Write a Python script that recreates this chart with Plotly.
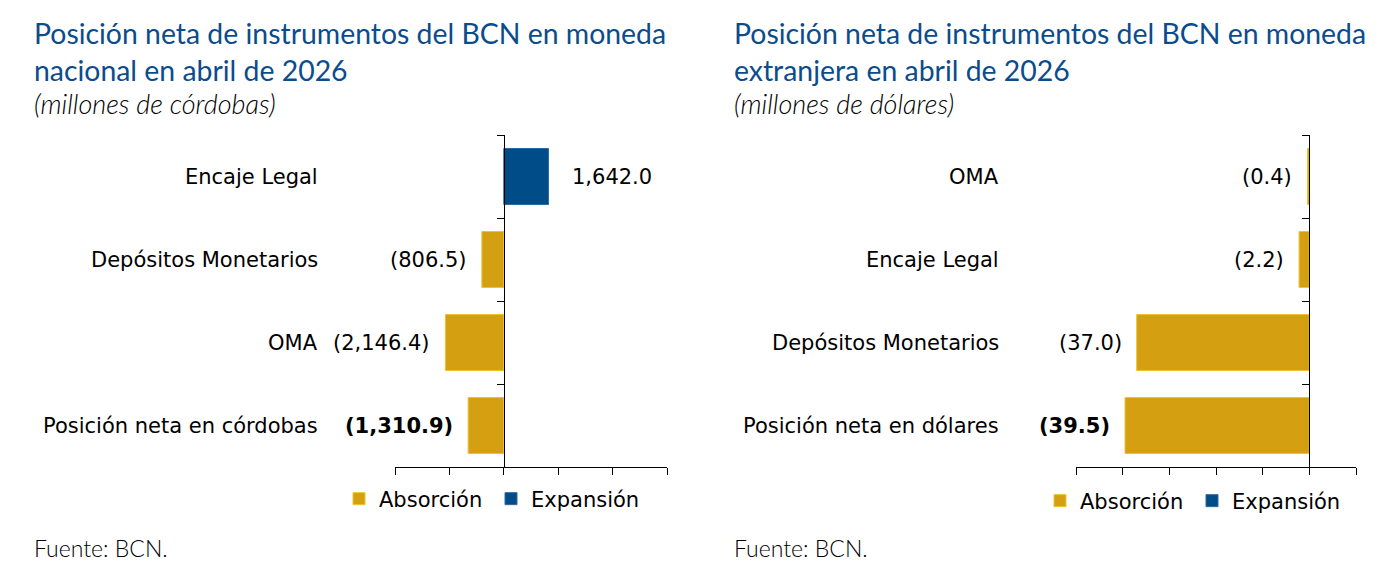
import plotly.graph_objects as go

W, H = 1388, 588

# ---------------- data ----------------
cats_nac = ["Encaje Legal", "Depósitos Monetarios", "OMA", "Posición neta en córdobas"]
vals_nac = [1642.0, -806.5, -2146.4, -1310.9]

cats_ext = ["OMA", "Encaje Legal", "Depósitos Monetarios", "Posición neta en dólares"]
vals_ext = [-0.4, -2.2, -37.0, -39.5]

range_nac = [-4000, 6000]
dtick_nac = 2000
range_ext = [-50, 10]
dtick_ext = 10

title_nac = "Posición neta de instrumentos del BCN en moneda<br>nacional en abril de 2026"
sub_nac = "(millones de córdobas)"
title_ext = "Posición neta de instrumentos del BCN en moneda<br>extranjera en abril de 2026"
sub_ext = "(millones de dólares)"
source = "Fuente: BCN."
series_names = ["Absorción", "Expansión"]

# ---------------- style ----------------
GOLD = "#D4A011"
GOLD_EDGE = "#F0C230"
BLUE = "#004C89"
BLUE_EDGE = "#2A6AA3"
TITLE_COLOR = "#0B4C8C"
BODY_FONT = "DejaVu Sans"
TITLE_FONT = "Lato"
BODY_SIZE = 21

dom_nac = [395 / W, 667 / W]
dom_ext = [1076 / W, 1356 / W]
dom_y = [1 - 467 / H, 1 - 135 / H]


def fmt(v):
    s = f"{abs(v):,.1f}"
    return f"({s})" if v < 0 else s


def zero_pos(dom, rng):
    return dom[0] + (0 - rng[0]) / (rng[1] - rng[0]) * (dom[1] - dom[0])


fig = go.Figure()

panels = [
    (cats_nac, vals_nac, "x", "y", "legend"),
    (cats_ext, vals_ext, "x2", "y2", "legend2"),
]
for cats, vals, xa, ya, lg in panels:
    fig.add_trace(go.Bar(
        y=cats, x=[v if v < 0 else None for v in vals], orientation="h",
        name=series_names[0], marker=dict(color=GOLD, line=dict(color=GOLD_EDGE, width=1)),
        width=0.675, xaxis=xa, yaxis=ya, legend=lg, hoverinfo="skip",
    ))
    fig.add_trace(go.Bar(
        y=cats, x=[v if v > 0 else None for v in vals], orientation="h",
        name=series_names[1], marker=dict(color=BLUE, line=dict(color=BLUE_EDGE, width=1)),
        width=0.675, xaxis=xa, yaxis=ya, legend=lg, hoverinfo="skip",
    ))

axis_common = dict(
    showline=True, linecolor="#000000", linewidth=1,
    ticks="outside", ticklen=7, tickcolor="#000000", tickwidth=1,
    showticklabels=False, showgrid=False, zeroline=False, fixedrange=True,
)

fig.update_layout(
    width=W, height=H,
    margin=dict(l=0, r=0, t=0, b=0),
    paper_bgcolor="white", plot_bgcolor="white",
    barmode="relative",
    showlegend=True,
    xaxis=dict(domain=dom_nac, range=range_nac, tick0=range_nac[0], dtick=dtick_nac,
               anchor="y", **axis_common),
    yaxis=dict(domain=dom_y, type="category", categoryarray=cats_nac, categoryorder="array",
               autorange="reversed", anchor="free", position=zero_pos(dom_nac, range_nac),
               tickson="boundaries", **axis_common),
    xaxis2=dict(domain=dom_ext, range=range_ext, tick0=range_ext[0], dtick=dtick_ext,
                anchor="y2", **axis_common),
    yaxis2=dict(domain=dom_y, type="category", categoryarray=cats_ext, categoryorder="array",
                autorange="reversed", anchor="free", position=zero_pos(dom_ext, range_ext),
                tickson="boundaries", **axis_common),
    legend=dict(orientation="h", x=339 / W, xanchor="left", y=1 - 499 / H, yanchor="middle",
                font=dict(family=BODY_FONT, size=BODY_SIZE, color="#000"),
                entrywidth=107, entrywidthmode="pixels", bgcolor="rgba(0,0,0,0)"),
    legend2=dict(orientation="h", x=1040 / W, xanchor="left", y=1 - 501 / H, yanchor="middle",
                 font=dict(family=BODY_FONT, size=BODY_SIZE, color="#000"),
                 entrywidth=107, entrywidthmode="pixels", bgcolor="rgba(0,0,0,0)"),
)

ann = []
# titles
for tx, sub, x0 in [(title_nac, sub_nac, 32), (title_ext, sub_ext, 732)]:
    ann.append(dict(text=tx, xref="paper", yref="paper", x=x0 / W, y=1 - 14 / H,
                    xanchor="left", yanchor="top", align="left", showarrow=False,
                    font=dict(family=TITLE_FONT, size=28.4, color=TITLE_COLOR)))
    ann.append(dict(text=f"<i>{sub}</i>", xref="paper", yref="paper", x=x0 / W, y=1 - 103 / H,
                    xanchor="left", yanchor="middle", align="left", showarrow=False,
                    font=dict(family=TITLE_FONT, size=27, weight=300, color="#000")))
    ann.append(dict(text=source, xref="paper", yref="paper", x=x0 / W, y=1 - 548 / H,
                    xanchor="left", yanchor="middle", align="left", showarrow=False,
                    font=dict(family=TITLE_FONT, size=23, weight=300, color="#000")))

# category labels and data labels
for cats, vals, xa, ya, lab_x in [(cats_nac, vals_nac, "x", "y", 320), (cats_ext, vals_ext, "x2", "y2", 1001)]:
    n = len(cats)
    for i, (c, v) in enumerate(zip(cats, vals)):
        ann.append(dict(text=c, xref="paper", yref=ya, x=lab_x / W, y=c,
                        xanchor="right", yanchor="middle", showarrow=False,
                        font=dict(family=BODY_FONT, size=BODY_SIZE, color="#000")))
        t = fmt(v)
        if i == n - 1:
            t = f"<b>{t}</b>"
        ann.append(dict(text=t, xref=xa, yref=ya, x=v, y=c,
                        xanchor="right" if v < 0 else "left",
                        xshift=-13 if v < 0 else 22,
                        yanchor="middle", showarrow=False,
                        font=dict(family=BODY_FONT, size=BODY_SIZE, color="#000")))

fig.update_layout(annotations=ann)

fig.write_html("out.html", config={"displayModeBar": False},
               post_script="document.body.style.margin='0';")
